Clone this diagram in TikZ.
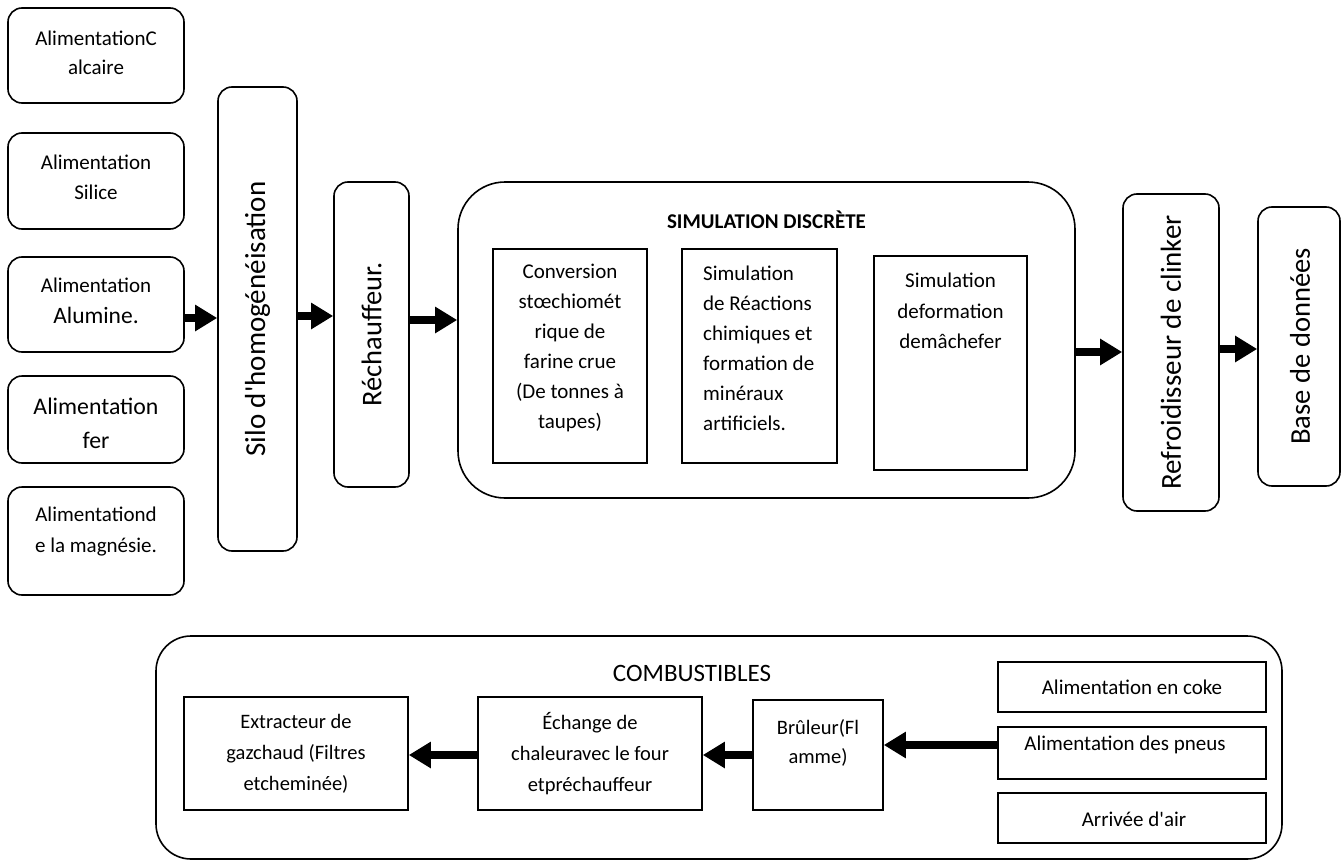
\documentclass[tikz,border=0pt]{standalone}
\usepackage{fontspec}
\setmainfont{Carlito}
\usetikzlibrary{arrows.meta}
\newcommand\fsz[2]{\fontsize{#1}{#2}\selectfont}
\newcommand\apos{\textquotesingle}
\begin{document}
\begin{tikzpicture}[x=1pt,y=-1pt,
  frame/.style={draw=black,line width=1.6pt,inner sep=0pt},
  rbox/.style={frame,rounded corners=14pt},
  sbox/.style={frame},
  txt/.style={align=center,inner sep=0pt},
  vtxt/.style={inner sep=0pt,rotate=90,font=\fsz{29}{35}},
  flow/.style={line width=8pt,-{Triangle[length=22pt,width=25pt]}}
]
\useasboundingbox (0,0) rectangle (1342,862);

% raw material feeds
\node[rbox,minimum width=176pt,minimum height=95pt] (calc) at (96,55.5) {};
\node[txt,font=\fsz{21}{29}] (calc-t) at (96,52.5) {AlimentationC\\alcaire};
\node[rbox,minimum width=176pt,minimum height=96pt] (sil) at (96,181) {};
\node[txt,font=\fsz{21}{30}] (sil-t) at (96,177) {Alimentation\\Silice};
\node[rbox,minimum width=176pt,minimum height=95pt] (alu) at (96,304.5) {};
\node[txt,font=\fsz{21}{31}] (alu-t) at (96,301) {Alimentation\\{\fsz{23.5}{31}Alumine.}};
\node[rbox,minimum width=176pt,minimum height=87pt] (fer) at (96,419.5) {};
\node[txt,font=\fsz{23.8}{34}] (fer-t) at (96,423) {Alimentation\\fer};
\node[rbox,minimum width=176pt,minimum height=108pt] (mag) at (96,541) {};
\node[txt,font=\fsz{21}{31}] (mag-t) at (96,531.5) {Alimentationd\\e la magnésie.};

% homogenisation and preheating
\node[rbox,minimum width=79pt,minimum height=464pt] (silo) at (257.5,319) {};
\node[vtxt] (silo-t) at (257.5,319) {Silo d\apos homogénéisation};
\node[rbox,minimum width=75pt,minimum height=305pt] (rech) at (371.5,334.5) {};
\node[vtxt,font=\fsz{28.5}{34}] (rech-t) at (371.5,334.5) {Réchauffeur.};

% discrete simulation block
\node[frame,rounded corners=47pt,minimum width=617pt,minimum height=316pt] (sim) at (766.5,340) {};
\node[txt,font=\fsz{21}{26}\bfseries] (sim-t) at (766.5,220) {SIMULATION DISCRÈTE};
\node[sbox,minimum width=154pt,minimum height=214pt] (conv) at (570,356) {};
\node[txt,font=\fsz{21}{30}] (conv-t) at (570,348) {Conversion\\stœchiomét\\rique de\\farine crue\\(De tonnes à\\taupes)};
\node[sbox,minimum width=155pt,minimum height=214pt] (reac) at (759.5,356) {};
\node[inner sep=0pt,align=left,anchor=west,font=\fsz{21}{30}] (reac-t) at (703,348) {Simulation\\de Réactions\\chimiques et\\formation de\\minéraux\\artificiels.};
\node[sbox,minimum width=153pt,minimum height=214pt] (defo) at (950.5,363) {};
\node[txt,font=\fsz{21}{30.5}] (defo-t) at (950.5,311) {Simulation\\deformation\\demâchefer};

% cooling and storage
\node[rbox,minimum width=96pt,minimum height=317pt] (refr) at (1171,352.5) {};
\node[vtxt] (refr-t) at (1171,352.5) {Refroidisseur de clinker};
\node[rbox,minimum width=82pt,minimum height=279pt] (base) at (1299,346.5) {};
\node[vtxt,font=\fsz{28.6}{34}] (base-t) at (1300,346.5) {Base de données};

% fuel circuit
\node[frame,rounded corners=35pt,minimum width=1126pt,minimum height=223pt] (comb) at (719,747.5) {};
\node[txt,font=\fsz{25}{30}] (comb-t) at (692,673) {COMBUSTIBLES};
\node[sbox,minimum width=224pt,minimum height=113pt] (extr) at (296,753.5) {};
\node[txt,font=\fsz{20.5}{31}] (extr-t) at (296,754) {Extracteur de\\gazchaud (Filtres\\etcheminée)};
\node[sbox,minimum width=224pt,minimum height=113pt] (ech) at (590,753.5) {};
\node[txt,font=\fsz{20.5}{31}] (ech-t) at (590,754) {Échange de\\chaleuravec le four\\etpréchauffeur};
\node[sbox,minimum width=130pt,minimum height=110pt] (brul) at (818,755) {};
\node[txt,font=\fsz{20.5}{29}] (brul-t) at (818,742.5) {Brûleur(Fl\\amme)};
\node[sbox,minimum width=268pt,minimum height=50pt] (coke) at (1132,687) {};
\node[txt,font=\fsz{21}{26}] (coke-t) at (1132,687) {Alimentation en coke};
\node[sbox,minimum width=268pt,minimum height=52pt] (pneu) at (1132,753) {};
\node[txt,font=\fsz{21}{26}] (pneu-t) at (1125,745) {Alimentation des pneus};
\node[sbox,minimum width=268pt,minimum height=50pt] (air) at (1132,818) {};
\node[txt,font=\fsz{21}{26}] (air-t) at (1134,819) {Arrivée d\apos air};

% material flow
\draw[flow] (alu.east |- 0,318) -- (silo.west |- 0,318);
\draw[flow] (silo.east |- 0,316) -- (rech.west |- 0,316);
\draw[flow] (rech.east |- 0,320) -- (sim.west |- 0,320);
\draw[flow] (sim.east |- 0,352) -- (refr.west |- 0,352);
\draw[flow] (refr.east |- 0,349) -- (base.west |- 0,349);
\draw[flow] (pneu.west |- 0,745) -- (brul.east |- 0,745);
\draw[flow] (brul.west |- 0,755) -- (ech.east |- 0,755);
\draw[flow] (ech.west |- 0,755) -- (extr.east |- 0,755);
\end{tikzpicture}
\end{document}
